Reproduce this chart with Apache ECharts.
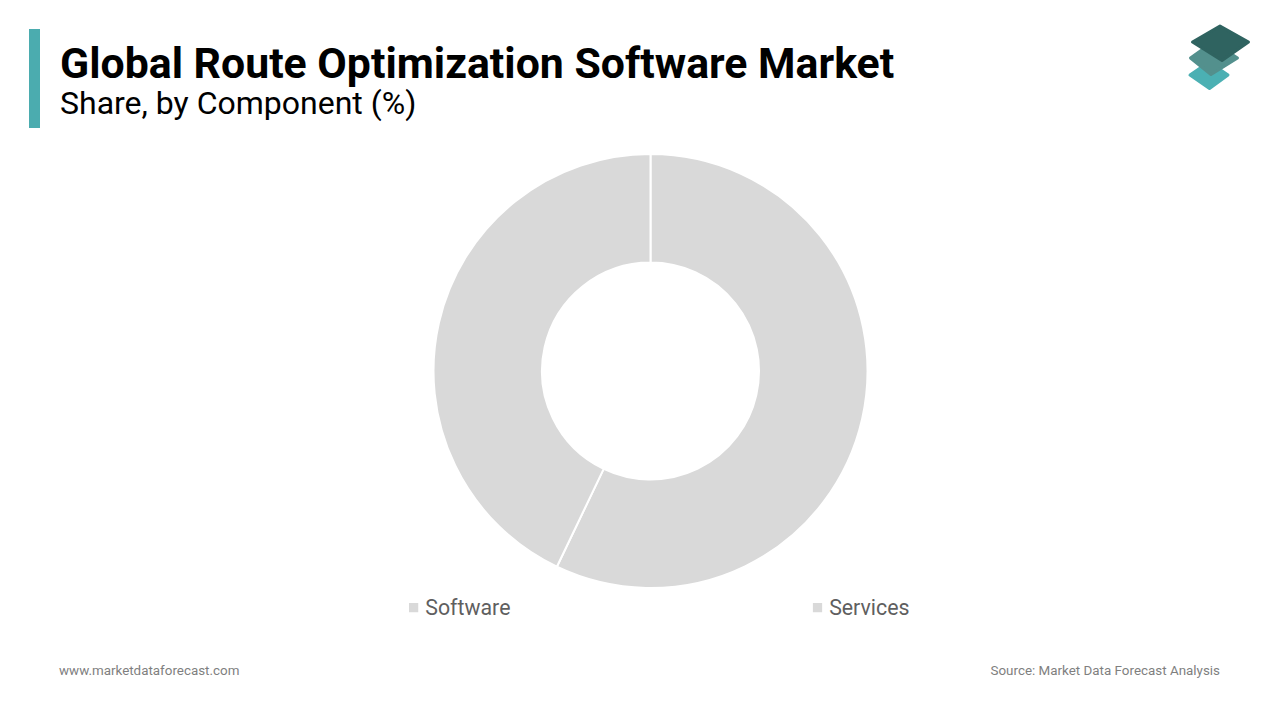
<!DOCTYPE html>
<html><head><meta charset="utf-8">
<style>html,body{margin:0;padding:0;background:#fff}#c{width:1280px;height:720px}</style>
<script src="https://cdn.jsdelivr.net/npm/echarts@6/dist/echarts.min.js"></script>
</head><body><div id="c"></div>
<script>
const categories = ['Software', 'Services'];
const shares = [57.1, 42.9];
const titleText = 'Global Route Optimization Software Market';
const subtitleText = 'Share, by Component (%)';
const footerLeft = 'www.marketdataforecast.com';
const footerRight = 'Source: Market Data Forecast Analysis';

const chart = echarts.init(document.getElementById('c'), null, {renderer: 'svg'});
const font = 'Roboto';
function diamond(points, fill, z) {
  return {type: 'polygon', z: z, silent: true,
    shape: {points: points},
    style: {fill: fill, stroke: fill, lineWidth: 3, lineJoin: 'round'}};
}
chart.setOption({
  animation: false,
  backgroundColor: '#fff',
  title: [
    {text: titleText, left: 60, top: 42, padding: 0,
      textStyle: {fontFamily: font, fontSize: 42.8, fontWeight: 700, color: '#000', lineHeight: 42}},
    {text: subtitleText, left: 60, top: 86, padding: 0,
      textStyle: {fontFamily: font, fontSize: 32, fontWeight: 400, color: '#000', lineHeight: 34}},
    {text: footerLeft, left: 59, top: 663, padding: 0,
      textStyle: {fontFamily: font, fontSize: 13.4, fontWeight: 400, color: '#7f7f7f', lineHeight: 15}},
    {text: footerRight, right: 60, top: 663, padding: 0,
      textStyle: {fontFamily: font, fontSize: 13.4, fontWeight: 400, color: '#7f7f7f', lineHeight: 15}}
  ],
  legend: {
    data: categories, left: 407, top: 597, padding: 0,
    icon: 'rect', itemWidth: 11.25, itemHeight: 11.25, itemGap: 300.45,
    selectedMode: false,
    textStyle: {fontFamily: font, fontSize: 21.33, color: '#5f5f5f', padding: [0, 0, 0, 1]}
  },
  series: [{
    type: 'pie', center: [650.5, 371], radius: [108.5, 217],
    startAngle: 90, clockwise: true, silent: true,
    label: {show: false}, labelLine: {show: false},
    itemStyle: {borderColor: '#fff', borderWidth: 2},
    data: categories.map((name, i) => ({name, value: shares[i], itemStyle: {color: '#d9d9d9'}}))
  }],
  graphic: [
    {type: 'rect', z: 10, silent: true, shape: {x: 29, y: 29, width: 11, height: 99}, style: {fill: '#4bacaf'}},
    diamond([[1209, 62], [1228, 75], [1209.5, 88.5], [1190, 75]], '#4bb0b3', 11),
    diamond([[1213, 42], [1237.5, 58], [1211, 74.5], [1190.5, 58]], '#53908d', 12),
    diamond([[1220, 26], [1248.5, 42], [1222, 60.5], [1192.5, 42]], '#2f6360', 13)
  ]
});
</script></body></html>
